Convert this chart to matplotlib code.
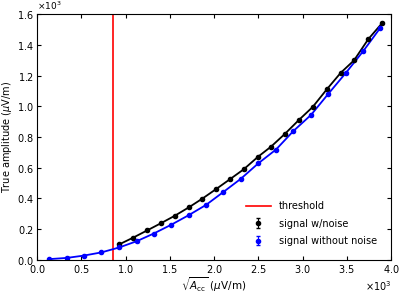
import numpy as np
import matplotlib
matplotlib.use('Agg')
import matplotlib.pyplot as plt

# values, in units of 1e3 (uV/m)
x_clean = [0.136, 0.335, 0.527, 0.727, 0.927, 1.126, 1.318, 1.518, 1.714, 1.910,
           2.105, 2.302, 2.500, 2.700, 2.897, 3.096, 3.292, 3.488, 3.687, 3.879]
y_clean = [0.003, 0.011, 0.026, 0.047, 0.079, 0.120, 0.170, 0.228, 0.290, 0.357,
           0.441, 0.527, 0.628, 0.718, 0.839, 0.944, 1.082, 1.217, 1.361, 1.512]
x_noise = [0.927, 1.088, 1.246, 1.405, 1.556, 1.718, 1.868, 2.023, 2.181, 2.335,
           2.497, 2.644, 2.802, 2.957, 3.115, 3.273, 3.432, 3.582, 3.744, 3.898]
y_noise = [0.099, 0.144, 0.191, 0.239, 0.286, 0.342, 0.398, 0.460, 0.525, 0.589,
           0.671, 0.737, 0.821, 0.910, 0.996, 1.110, 1.219, 1.300, 1.439, 1.542]
err_noise = [0.006] * len(x_noise)
err_clean = [0.004] * len(x_clean)
threshold = 0.855

scale = 1e3
xc = np.array(x_clean) * scale
yc = np.array(y_clean) * scale
xn = np.array(x_noise) * scale
yn = np.array(y_noise) * scale

plt.rcParams['font.size'] = 7
plt.rcParams['mathtext.fontset'] = 'dejavusans'

fig = plt.figure(figsize=(3.99, 2.93), dpi=100)
ax = fig.add_axes([0.093, 0.114, 0.887, 0.837])

ax.axvline(threshold * scale, color='r', lw=1.2, label='threshold')

# curves drawn separately so the legend shows only the points with error bars
ax.plot(xn, yn, color='k', lw=1.3)
ax.plot(xc, yc, color='b', lw=1.3)
ax.errorbar(xn, yn, yerr=np.array(err_noise) * scale, fmt='o', color='k', ms=3,
            capsize=1.5, elinewidth=0.8, label='signal w/noise')
ax.errorbar(xc, yc, yerr=np.array(err_clean) * scale, fmt='o', color='b', ms=3,
            capsize=1.5, elinewidth=0.8, label='signal without noise')

ax.set_xlim(0, 4000)
ax.set_ylim(0, 1600)
ax.set_xticks(np.arange(0, 4001, 500))
ax.set_yticks(np.arange(0, 1601, 200))
ax.ticklabel_format(style='sci', scilimits=(0, 0), useMathText=True)
ax.tick_params(direction='in', top=True, right=True, length=3, pad=2.5)
ax.xaxis.get_offset_text().set_fontsize(7)
ax.yaxis.get_offset_text().set_fontsize(6.5)

ax.set_xlabel(r'$\sqrt{A_{\mathrm{cc}}}$ ($\mu$V/m)', fontsize=7.5, labelpad=0)
ax.set_ylabel(r'True amplitude ($\mu$V/m)', labelpad=2)

ax.legend(loc='lower right', frameon=False, bbox_to_anchor=(0.985, 0.02),
          handlelength=2.6, labelspacing=0.75, handletextpad=0.8)

fig.savefig('out.png', dpi=100)
